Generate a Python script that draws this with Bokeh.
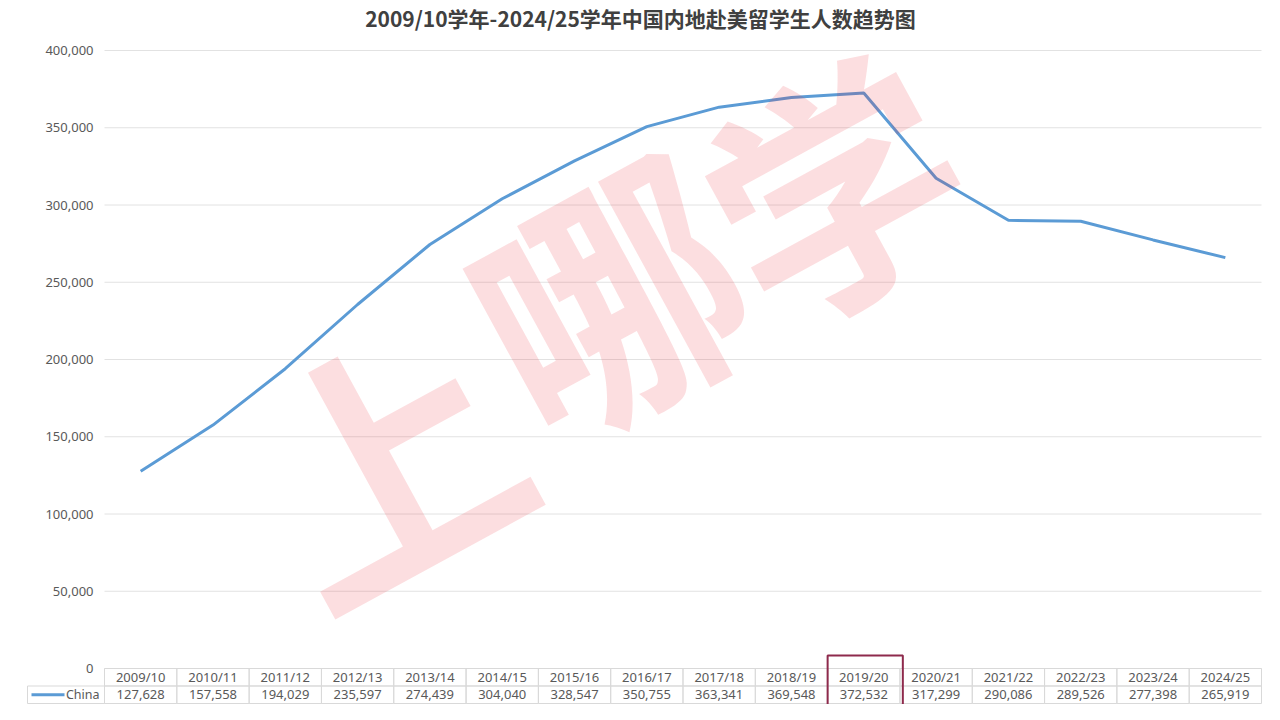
from bokeh.plotting import figure
from bokeh.models import Range1d, Label
from bokeh.core.properties import value
from bokeh.embed import file_html
from bokeh.resources import INLINE

# ---- data ----
years = ["2009/10", "2010/11", "2011/12", "2012/13", "2013/14", "2014/15", "2015/16", "2016/17",
         "2017/18", "2018/19", "2019/20", "2020/21", "2021/22", "2022/23", "2023/24", "2024/25"]
china = [127628, 157558, 194029, 235597, 274439, 304040, 328547, 350755,
         363341, 369548, 372532, 317299, 290086, 289526, 277398, 265919]
y_ticks = [0, 50000, 100000, 150000, 200000, 250000, 300000, 350000, 400000]
series_name = "China"
highlight_year = "2019/20"
title_text = "2009/10学年-2024/25学年中国内地赴美留学生人数趋势图"
watermark_chars = ["上", "哪", "学"]

# ---- layout constants (pixels) ----
W, H = 1264, 704
plot_left, plot_right = 104, 1261        # table / grid horizontal extent
zero_px, top_px = 668, 50                # pixel rows of 0 and 400,000
n = len(years)
colw = (plot_right - plot_left) / n      # pixels per category column
upp = y_ticks[-1] / (zero_px - top_px)   # data units per pixel

FONT = "Noto Sans"
CJK = "Noto Sans CJK SC"
TXT = "#595959"
BORDER = "#d9d9d9"
GRID = "#e2e2e2"
BLUE = "#5b9bd5"

p = figure(width=W, height=H, output_backend="svg", toolbar_location=None,
           x_range=Range1d(-plot_left / colw, (W - plot_left) / colw),
           y_range=Range1d(-(H - zero_px) * upp, zero_px * upp),
           x_axis_location=None, y_axis_location=None,
           min_border_left=0, min_border_right=0, min_border_top=0, min_border_bottom=0)
p.outline_line_color = None
p.background_fill_color = "white"
p.border_fill_color = "white"
p.grid.visible = False

xs = [i + 0.5 for i in range(n)]   # category centres

# ---- horizontal grid + value axis labels ----
p.segment(x0=[0] * len(y_ticks), x1=[n] * len(y_ticks), y0=y_ticks, y1=y_ticks,
          line_color=GRID, line_width=1)
p.text(x=[-11 / colw] * len(y_ticks), y=y_ticks, text=[f"{t:,}" for t in y_ticks],
       text_align="right", text_baseline="middle",
       text_font=value(FONT), text_font_size="13px", text_color=TXT)

# ---- line ----
p.line(x=xs, y=china, line_color=BLUE, line_width=3)

# ---- data table ----
row_h = 17.5 * upp
hdr_y = -row_h / 2
val_y = -row_h * 1.5
p.rect(x=xs, y=[hdr_y] * n, width=1, height=row_h, fill_color=None, line_color=BORDER)
p.rect(x=xs, y=[val_y] * n, width=1, height=row_h, fill_color=None, line_color=BORDER)
p.text(x=xs, y=[hdr_y] * n, text=years, text_align="center", text_baseline="middle",
       text_font=value(FONT), text_font_size="13px", text_color=TXT)
p.text(x=xs, y=[val_y] * n, text=[f"{v:,}" for v in china],
       text_align="center", text_baseline="middle",
       text_font=value(FONT), text_font_size="13px", text_color=TXT)

# legend cell
china_cell_w = 77 / colw
p.rect(x=[-china_cell_w / 2], y=[val_y], width=china_cell_w, height=row_h,
       fill_color=None, line_color=BORDER)
p.segment(x0=[-73 / colw], x1=[-40 / colw], y0=[val_y], y1=[val_y],
          line_color=BLUE, line_width=3)
p.text(x=[-5 / colw], y=[val_y], text=[series_name], text_align="right", text_baseline="middle",
       text_font=value(FONT), text_font_size="12.5px", text_color=TXT)

# highlight box around 2019/20
hi = years.index(highlight_year)
box_top = 13 * upp
box_bot = -(H - zero_px + 20) * upp
p.rect(x=[xs[hi] + 0.02], y=[(box_top + box_bot) / 2], width=1.04, height=box_top - box_bot,
       fill_color=None, line_color="#8e2a4c", line_width=2)

# title
p.add_layout(Label(x=640, y=H - 17, x_units="screen", y_units="screen", text=title_text,
                   text_align="center", text_baseline="middle",
                   text_font=CJK, text_font_size="21px", text_font_style="bold",
                   text_color="#404040"))

# watermark, one rotated character at a time
wm_pos = [(380, 452, 262), (603, 288, 262), (830, 180, 250)]
for ch, (cx, cy, fs) in zip(watermark_chars, wm_pos):
    p.add_layout(Label(x=cx, y=H - cy, x_units="screen", y_units="screen", text=ch,
                       angle=0.5, text_align="center", text_baseline="middle",
                       text_font=CJK, text_font_size=f"{fs}px", text_font_style="bold",
                       text_color="#e8202f", text_alpha=0.15))

open("out.html", "w").write(file_html(p, INLINE))
